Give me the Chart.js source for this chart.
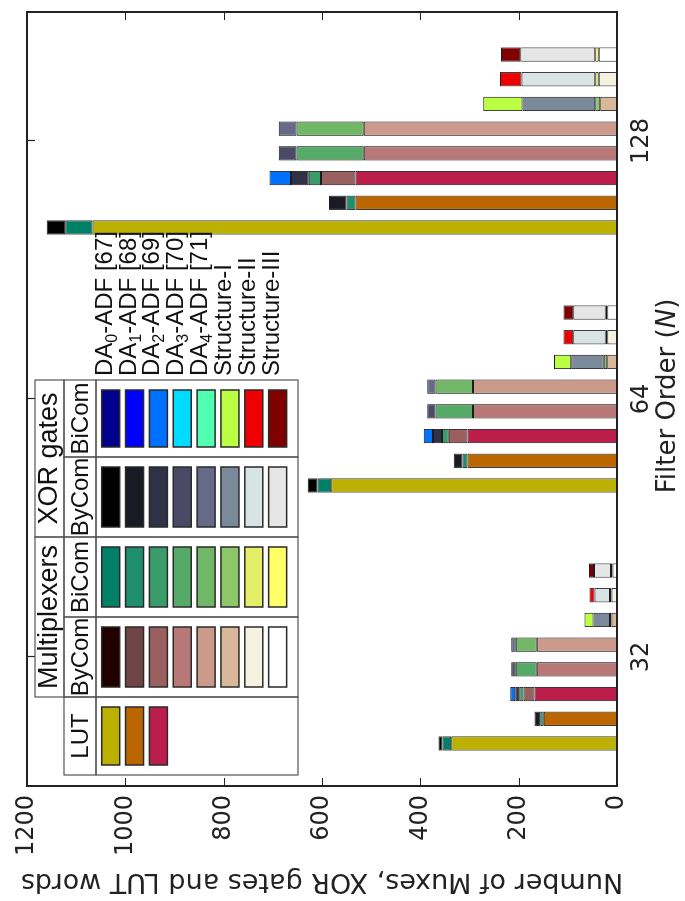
<!DOCTYPE html>
<html>
<head>
<meta charset="utf-8">
<script src="https://cdn.jsdelivr.net/npm/chart.js@4.4.1/dist/chart.umd.min.js"></script>
<style>
  html, body { margin: 0; padding: 0; background: #fff; overflow: hidden; }
  body { width: 685px; height: 901px; position: relative; }
  /* chart is drawn upright (901 x 685) and turned a quarter turn counter-clockwise */
  #wrap {
    position: absolute; left: 0; top: 0; width: 901px; height: 685px;
    transform-origin: 0 0;
    transform: translate(0px, 901px) rotate(-90deg);
  }
</style>
</head>
<body>
<div id="wrap"><canvas id="chart" width="901" height="685"></canvas></div>
<script>
const filterOrders = ['32', '64', '128']
const designs = ['DA0', 'DA1', 'DA2', 'DA3', 'DA4', 'S-I', 'S-II', 'S-III']
const designLabels = ['DA_0-ADF [67]', 'DA_1-ADF [68]', 'DA_2-ADF [69]', 'DA_3-ADF [70]', 'DA_4-ADF [71]', 'Structure-I', 'Structure-II', 'Structure-III']
const valueTicks = [0, 200, 400, 600, 800, 1000, 1200]

// one entry per design, values for N = 32, 64, 128 (null = not used)
const lutWords = [[337, 581, 1067], [149, 304, 532], [168, 304, 532], null, null, null, null, null]
const muxByCom = [null, null, [22, 38, 70], [163, 293, 515], [163, 293, 515], [11, 20, 34], [11, 20, 37], [9, 20, 37]]
const muxBiCom = [[18, 28, 55], [7, 10, 18], [9, 14, 25], [43, 76, 137], [43, 76, 137], [3, 7, 10], [3, 3, 7], [3, 3, 7]]
const xorByCom = [[8, 20, 38], [12, 18, 36], [8, 18, 36], [9, 17, 36], [9, 17, 36], [34, 66, 148], [32, 66, 150], [35, 66, 153]]
const xorBiCom = [null, null, [10, 19, 44], null, null, [18, 35, 80], [10, 20, 44], [10, 20, 39]]

const lutColors = ['#bcb000', '#bc6600', '#bc1e4c']
const muxByComColors = ['#200000', '#704545', '#9a6060', '#b87878', '#cc9a8a', '#d8b898', '#f5f3e0', '#ffffff']
const muxBiComColors = ['#008066', '#1e8f6a', '#3a9c68', '#55aa68', '#70b868', '#8cc868', '#e4ee66', '#ffff66']
const xorByComColors = ['#000000', '#1a1a24', '#303046', '#4a4a66', '#666a88', '#7a8a9a', '#d8e4e4', '#e6e6e6']
const xorBiComColors = ['#00008c', '#0000ff', '#0070ff', '#00dcff', '#50ffb0', '#bbff44', '#ee0000', '#800000']

const components = [
  { name: 'LUT', data: lutWords, colors: lutColors },
  { name: 'Mux ByCom', data: muxByCom, colors: muxByComColors },
  { name: 'Mux BiCom', data: muxBiCom, colors: muxBiComColors },
  { name: 'XOR ByCom', data: xorByCom, colors: xorByComColors },
  { name: 'XOR BiCom', data: xorBiCom, colors: xorBiComColors },
]

const datasets = []
designs.forEach((design, i) => {
  components.forEach((comp) => {
    if (!comp.data[i]) return
    datasets.push({
      label: design + ' ' + comp.name,
      stack: design,
      data: comp.data[i],
      backgroundColor: comp.colors[i],
      borderColor: '#1c1c1c',
      borderWidth: 1,
      borderSkipped: false,
      categoryPercentage: 0.766,
      barPercentage: 0.58,
    })
  })
})

const INK = '#222'

// box around the plot with inward tick marks, plus the axis titles
const framePlugin = {
  id: 'frame',
  afterDatasetsDraw: (chart) => {
    const { ctx, chartArea: a, scales } = chart
    ctx.save()
    ctx.strokeStyle = INK
    ctx.lineWidth = 1.2
    valueTicks.forEach((v) => {
      const y = Math.round(scales.y.getPixelForValue(v)) + 0.5
      ctx.beginPath()
      ctx.moveTo(a.left, y); ctx.lineTo(a.left + 8, y)
      ctx.moveTo(a.right, y); ctx.lineTo(a.right - 8, y)
      ctx.stroke()
    })
    filterOrders.forEach((_, i) => {
      const x = Math.round(scales.x.getPixelForValue(i)) + 0.5
      ctx.beginPath()
      ctx.moveTo(x, a.top); ctx.lineTo(x, a.top + 8)
      ctx.stroke()
    })
    ctx.lineWidth = 2
    ctx.strokeRect(a.left, a.top, a.right - a.left, a.bottom - a.top)

    // y title
    ctx.fillStyle = INK
    ctx.font = '27px "DejaVu Sans"'
    ctx.textAlign = 'center'
    ctx.textBaseline = 'middle'
    ctx.save()
    ctx.translate(20, (a.top + a.bottom) / 2)
    ctx.rotate(-Math.PI / 2)
    ctx.fillText('Number of Muxes, XOR gates and LUT words', 0, 0)
    ctx.restore()

    // x title with italic N
    const parts = [['Filter Order (', 'normal'], ['N', 'italic'], [')', 'normal']]
    let total = 0
    parts.forEach((p) => {
      ctx.font = p[1] + ' 26px "DejaVu Sans"'
      total += ctx.measureText(p[0]).width
    })
    let x = (a.left + a.right) / 2 + 3 - total / 2
    ctx.textAlign = 'left'
    parts.forEach((p) => {
      ctx.font = p[1] + ' 26px "DejaVu Sans"'
      ctx.fillText(p[0], x, 668)
      x += ctx.measureText(p[0]).width
    })
    ctx.restore()
  },
}

// table-style legend: columns per component, one row per design
const legendPlugin = {
  id: 'tableLegend',
  afterDraw: (chart) => {
    const { ctx } = chart
    const cols = [126, 204, 284, 364, 444, 521]
    const top = 35, row1 = 64, row2 = 96, bottom = 298
    const rowY = (r) => 110.7 + 23.85 * r
    ctx.save()
    ctx.strokeStyle = '#555'
    ctx.lineWidth = 1.2
    // group headers
    ctx.strokeRect(cols[1], top, cols[3] - cols[1], row1 - top)
    ctx.strokeRect(cols[3], top, cols[5] - cols[3], row1 - top)
    for (let c = 0; c < 5; c++) {
      ctx.strokeRect(cols[c], row1, cols[c + 1] - cols[c], row2 - row1)
      ctx.strokeRect(cols[c], row2, cols[c + 1] - cols[c], bottom - row2)
    }
    ctx.fillStyle = '#111'
    ctx.textAlign = 'center'
    ctx.textBaseline = 'middle'
    ctx.font = '27px "Liberation Sans"'
    ctx.fillText('Multiplexers', (cols[1] + cols[3]) / 2, 50)
    ctx.fillText('XOR gates', (cols[3] + cols[5]) / 2, 50)
    ctx.font = '24px "Liberation Sans"'
    const heads = ['LUT', 'ByCom', 'BiCom', 'ByCom', 'BiCom']
    heads.forEach((h, c) => ctx.fillText(h, (cols[c] + cols[c + 1]) / 2, 81))

    // swatches
    ctx.strokeStyle = '#2a2a2a'
    ctx.lineWidth = 1.5
    components.forEach((comp, c) => {
      comp.colors.forEach((col, r) => {
        const x0 = cols[c] + 10, w = cols[c + 1] - cols[c] - 20
        ctx.fillStyle = col
        ctx.fillRect(x0, rowY(r) - 9, w, 18)
        ctx.strokeRect(x0, rowY(r) - 9, w, 18)
      })
    })

    // design names, "_d" marks a subscript digit
    ctx.fillStyle = '#111'
    ctx.textAlign = 'left'
    ctx.textBaseline = 'alphabetic'
    designLabels.forEach((lab, r) => {
      let x = 525
      const y = rowY(r) + 1
      const m = lab.match(/^(.*)_(\d)(.*)$/)
      const pieces = m ? [[m[1], 0], [m[2], 1], [m[3], 0]] : [[lab, 0]]
      pieces.forEach(([t, sub]) => {
        ctx.font = sub ? '16px "Liberation Sans"' : '24px "Liberation Sans"'
        ctx.fillText(t, x, sub ? y + 5 : y)
        x += ctx.measureText(t).width
      })
    })
    ctx.restore()
  },
}

Chart.defaults.font.family = '"DejaVu Sans"'
Chart.defaults.color = INK

new Chart(document.getElementById('chart'), {
  type: 'bar',
  data: { labels: filterOrders, datasets },
  options: {
    responsive: false,
    animation: false,
    devicePixelRatio: 1,
    layout: { padding: { top: 27, right: 12, left: 0, bottom: 0 } },
    plugins: { legend: { display: false }, tooltip: { enabled: false } },
    scales: {
      x: {
        stacked: true,
        grid: { display: false, drawTicks: false },
        border: { display: false },
        ticks: { font: { size: 24 }, padding: 10, color: INK },
        afterFit: (s) => { s.height = 68 },
      },
      y: {
        stacked: true,
        min: 0,
        max: 1200,
        grid: { display: false, drawTicks: false },
        border: { display: false },
        ticks: { stepSize: 200, font: { size: 24 }, padding: 9, color: INK, callback: (v) => String(v) },
        afterFit: (s) => { s.width = 115 },
      },
    },
  },
  plugins: [framePlugin, legendPlugin],
})
</script>
</body>
</html>
